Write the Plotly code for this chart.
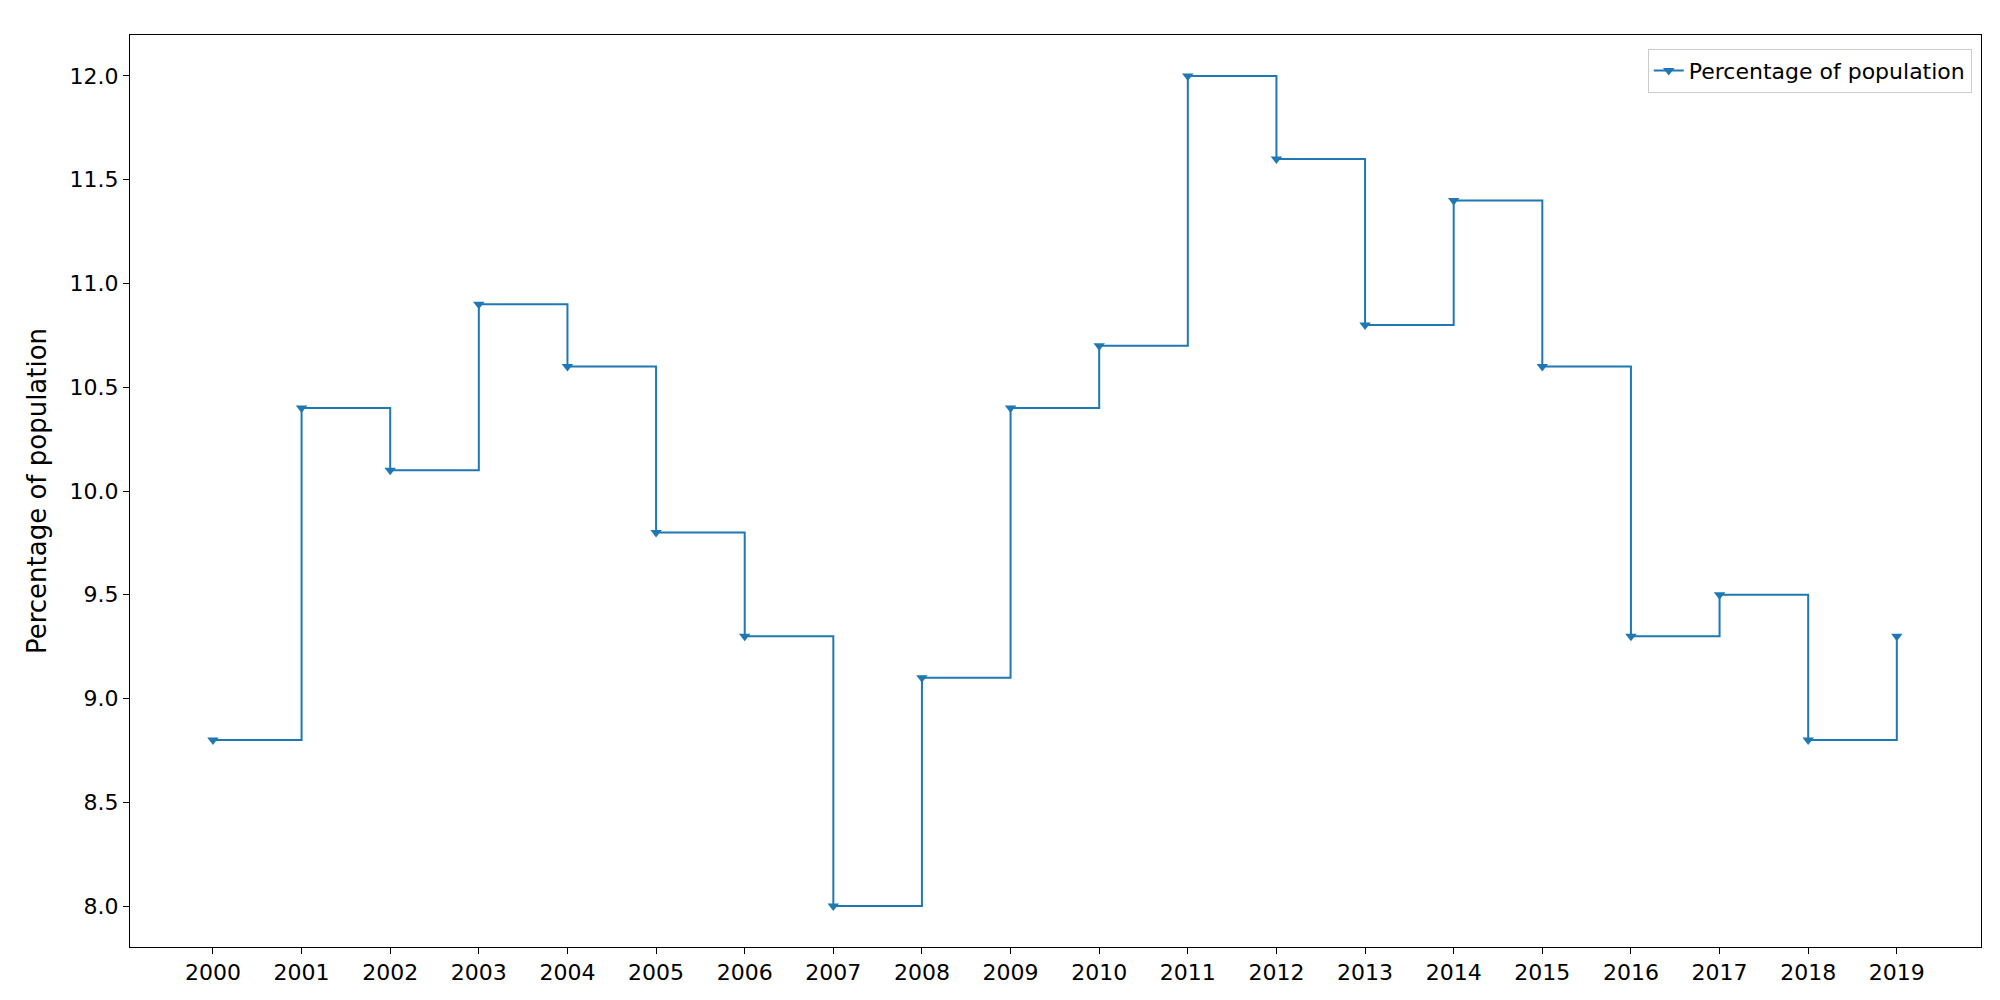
import plotly.graph_objects as go

years = list(range(2000, 2020))
percent = [8.8, 10.4, 10.1, 10.9, 10.6, 9.8, 9.3, 8.0, 9.1, 10.4,
           10.7, 12.0, 11.6, 10.8, 11.4, 10.6, 9.3, 9.5, 8.8, 9.3]

fig = go.Figure()
fig.add_trace(go.Scatter(
    x=years, y=percent, mode="lines+markers", name="Percentage of population",
    line=dict(color="#1f77b4", width=2, shape="hv"),
    marker=dict(symbol="triangle-down", size=10, color="#1f77b4"),
))

axis_common = dict(showgrid=False, zeroline=False, showline=True, mirror=True,
                   linecolor="black", linewidth=1, ticks="outside", ticklen=6,
                   tickcolor="black")
fig.update_xaxes(range=[1999.064, 2019.95], tickmode="array", tickvals=years,
                 ticktext=[str(y) for y in years], **axis_common)
fig.update_yaxes(range=[7.803, 12.197], dtick=0.5, tickformat=".1f",
                 title_text="Percentage of population", **axis_common)

fig.update_layout(
    width=2000, height=1000,
    margin=dict(l=122, r=27, t=27, b=61),
    plot_bgcolor="white", paper_bgcolor="white",
    font=dict(family="DejaVu Sans", size=22, color="black"),
    showlegend=True,
    legend=dict(x=0.995, y=0.985, xanchor="right", yanchor="top",
                bordercolor="#cccccc", borderwidth=1, bgcolor="white",
                font=dict(size=22)),
)

fig.write_html("out.html")
